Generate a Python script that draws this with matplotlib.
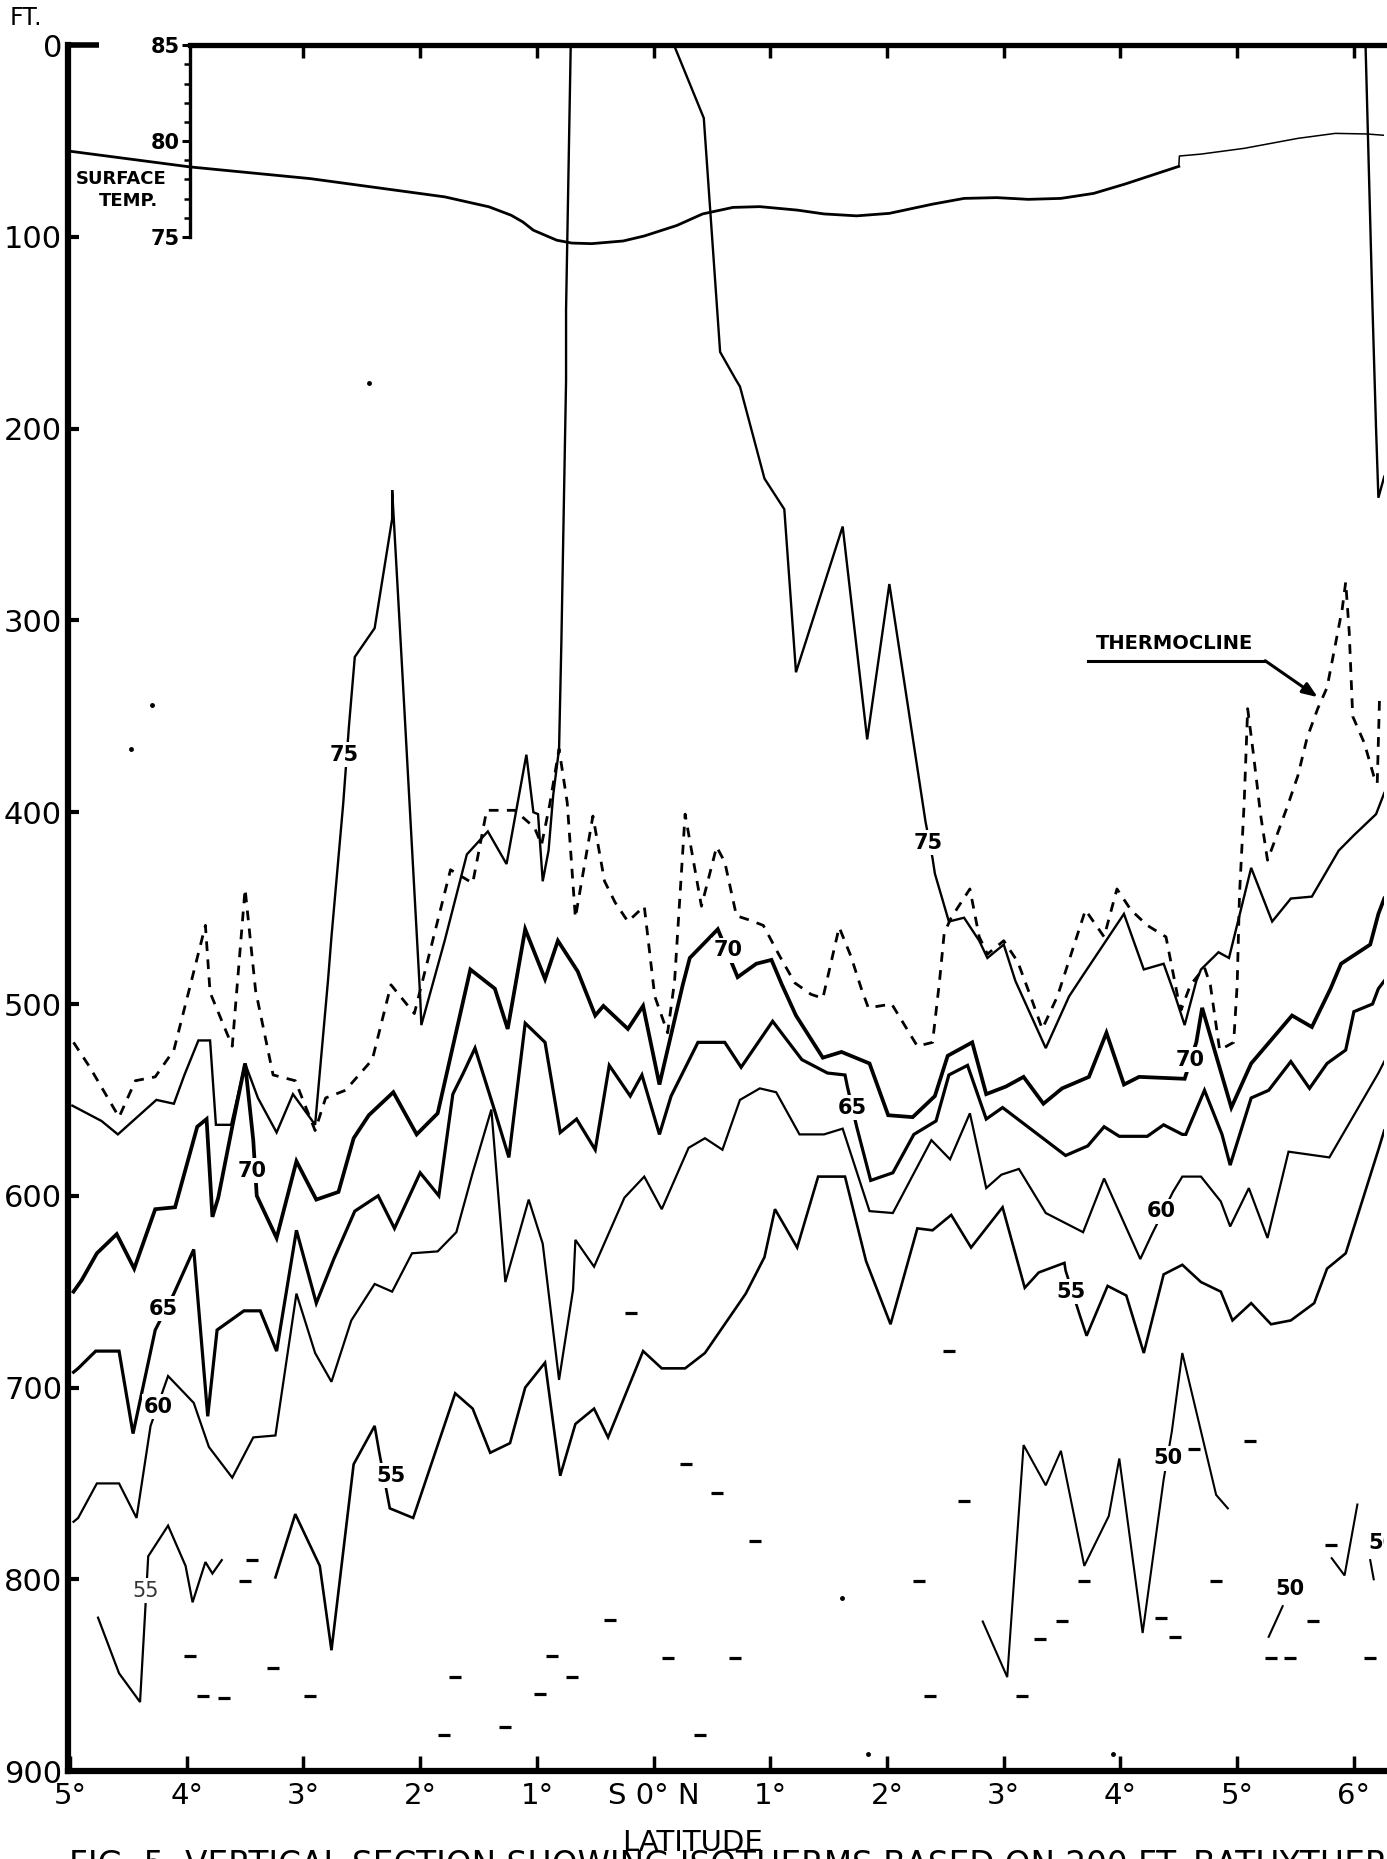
import matplotlib
matplotlib.use("Agg")
import matplotlib.pyplot as plt

plt.rcParams['font.family'] = ['DejaVu Sans']

# ---------------- data (latitude: S negative, N positive; depth in ft) -------------
therm = [(-4.97,520),(-4.83,533),(-4.58,559),(-4.44,540),(-4.27,538),(-4.11,524),(-3.96,488),
         (-3.84,459),(-3.80,494),(-3.61,522),(-3.57,492),(-3.50,440),(-3.41,493),(-3.26,537),
         (-3.07,540),(-2.90,566),(-2.81,549),(-2.64,545),(-2.41,529),(-2.25,490),(-2.05,505),
         (-1.74,430),(-1.55,437),(-1.43,399),(-1.19,399),(-1.02,408),(-0.96,417),(-0.89,396),
         (-0.81,367),(-0.74,395),(-0.67,455),(-0.52,402),(-0.42,436),(-0.33,447),(-0.22,457),
         (-0.08,449),(0.01,496),(0.12,515),(0.18,488),(0.27,401),(0.41,449),(0.54,418),
         (0.61,426),(0.71,454),(0.81,456),(0.94,459),(1.08,475),(1.21,489),(1.35,495),
         (1.45,497),(1.59,460),(1.69,475),(1.78,492),(1.84,502),(2.04,500),(2.26,522),
         (2.39,520),(2.45,488),(2.49,463),(2.55,455),(2.71,440),(2.79,465),(2.86,474),
         (3.00,467),(3.12,478),(3.23,496),(3.33,513),(3.46,496),(3.70,451),(3.86,465),
         (3.97,440),(4.09,451),(4.23,459),(4.39,465),(4.49,496),(4.52,503),(4.60,490),
         (4.72,481),(4.77,490),(4.85,524),(4.97,520),(5.00,490),(5.02,443),(5.06,395),
         (5.09,346),(5.14,370),(5.20,401),(5.26,425),(5.34,412),(5.43,397),(5.52,381),
         (5.60,361),(5.69,346),(5.77,335),(5.84,313),(5.90,294),(5.93,280),(5.96,306),
         (5.99,350),(6.09,364),(6.17,381),(6.20,385),(6.22,340)]

iso75_a = [(-4.98,553),(-4.73,561),(-4.59,568),(-4.26,550),(-4.11,552),(-4.02,537),(-3.90,519),
           (-3.80,519),(-3.75,563),(-3.62,563),(-3.50,531),(-3.39,549),(-3.23,567),(-3.09,547),
           (-2.90,563),(-2.79,488),(-2.76,465),(-2.66,396),(-2.61,355),(-2.56,319),(-2.39,304),
           (-2.24,247),(-2.24,232),(-2.16,319),(-2.00,496),(-1.99,511),(-1.79,467),(-1.60,422),
           (-1.42,410),(-1.26,427),(-1.09,370),(-1.03,400),(-0.99,401),(-0.95,436),(-0.90,420),
           (-0.86,391),(-0.81,367),(-0.79,311),(-0.75,175),(-0.75,138),(-0.71,0)]
iso75_b = [(0.175,0),(0.43,38),(0.57,160),(0.71,175),(0.74,178),(0.95,226),(1.12,242),
           (1.22,327),(1.62,251),(1.83,362),(2.02,281),(2.33,405),(2.39,424),(2.41,432),
           (2.53,457),(2.66,455),(2.79,467),(2.86,476),(3.00,469),(3.10,488),(3.36,523),
           (3.56,496),(3.69,484),(4.03,453),(4.20,482),(4.37,479),(4.47,496),(4.55,511),
           (4.65,488),(4.69,482),(4.84,473),(4.93,476),(5.12,429),(5.30,457),(5.46,445),
           (5.64,444),(5.87,420),(6.00,412),(6.19,401),(6.26,390)]
iso75_c = [(6.10,0),(6.16,138),(6.19,200),(6.21,236),(6.26,225)]

iso70 = [(-4.97,650),(-4.90,644),(-4.77,630),(-4.60,620),(-4.45,638),(-4.27,607),(-4.10,606),
         (-3.91,564),(-3.83,560),(-3.78,611),(-3.73,601),(-3.61,564),(-3.50,531),(-3.43,571),
         (-3.40,600),(-3.23,622),(-3.06,582),(-2.89,602),(-2.70,598),(-2.57,570),(-2.44,558),
         (-2.23,546),(-2.03,568),(-1.85,557),(-1.57,482),(-1.36,492),(-1.25,513),(-1.10,461),
         (-0.93,487),(-0.82,467),(-0.65,483),(-0.50,506),(-0.43,501),(-0.22,513),(-0.09,501),
         (0.05,542),(0.25,490),(0.31,476),(0.55,461),(0.72,486),(0.88,479),(1.01,477),
         (1.10,490),(1.22,506),(1.45,528),(1.61,525),(1.85,531),(2.01,558),(2.22,559),
         (2.41,548),(2.52,527),(2.73,520),(2.85,547),(3.02,543),(3.17,538),(3.34,552),
         (3.50,544),(3.73,538),(3.88,515),(4.03,542),(4.16,538),(4.55,539),(4.65,520),
         (4.70,502),(4.95,554),(5.12,531),(5.47,506),(5.64,512),(5.80,492),(5.89,479),
         (6.14,469),(6.21,453),(6.26,445)]

iso65 = [(-4.97,692),(-4.93,690),(-4.78,681),(-4.58,681),(-4.46,724),(-4.27,670),(-4.11,651),
         (-3.94,628),(-3.82,715),(-3.74,670),(-3.51,660),(-3.37,660),(-3.23,681),(-3.06,618),
         (-2.89,656),(-2.74,633),(-2.56,608),(-2.36,600),(-2.22,617),(-2.00,588),(-1.84,600),
         (-1.72,547),(-1.63,536),(-1.53,523),(-1.37,554),(-1.24,580),(-1.10,510),(-0.93,520),
         (-0.80,567),(-0.66,560),(-0.50,576),(-0.38,532),(-0.20,548),(-0.10,537),(0.05,568),
         (0.15,548),(0.38,520),(0.61,520),(0.75,533),(1.02,509),(1.27,529),(1.49,536),
         (1.64,537),(1.66,543),(1.74,564),(1.86,592),(2.05,588),(2.23,568),(2.42,561),
         (2.53,537),(2.69,532),(2.85,560),(2.99,554),(3.53,579),(3.72,574),(3.86,564),
         (3.99,569),(4.23,569),(4.37,563),(4.53,568),(4.56,568),(4.72,545),(4.87,568),
         (4.94,584),(5.12,549),(5.27,545),(5.46,530),(5.62,544),(5.77,531),(5.93,524),
         (6.00,504),(6.16,500),(6.21,492),(6.26,488)]

iso60 = [(-4.97,770),(-4.93,768),(-4.77,750),(-4.58,750),(-4.43,768),(-4.31,720),(-4.16,694),
         (-3.94,708),(-3.81,731),(-3.61,747),(-3.43,726),(-3.24,725),(-3.06,651),(-2.90,682),
         (-2.76,697),(-2.59,665),(-2.39,646),(-2.24,650),(-2.07,630),(-1.85,629),(-1.69,619),
         (-1.55,588),(-1.39,555),(-1.27,645),(-1.07,602),(-0.95,625),(-0.81,696),(-0.69,649),
         (-0.67,623),(-0.51,637),(-0.25,601),(-0.08,590),(0.07,607),(0.30,575),(0.44,570),
         (0.59,576),(0.74,550),(0.91,544),(1.05,546),(1.25,568),(1.46,568),(1.62,565),
         (1.85,608),(2.05,609),(2.38,571),(2.54,581),(2.71,557),(2.85,596),(2.98,589),
         (3.13,586),(3.36,609),(3.68,619),(3.86,591),(4.17,633),(4.27,620),(4.45,598),
         (4.53,590),(4.69,590),(4.86,603),(4.94,616),(5.10,596),(5.26,622),(5.44,577),
         (5.79,580),(6.21,536),(6.26,530)]

iso55_a = [(-4.76,820),(-4.58,849),(-4.40,864),(-4.36,821),(-4.33,788),(-4.16,772),(-4.01,793),
           (-3.95,812),(-3.84,791),(-3.78,797),(-3.70,790)]
iso55_b = [(-3.24,799),(-3.07,766),(-2.86,793),(-2.76,837),(-2.57,740),(-2.39,720),(-2.35,734),
           (-2.26,763),(-2.06,768),(-1.70,703),(-1.55,711),(-1.40,734),(-1.23,729),(-1.10,700),
           (-0.93,687),(-0.80,746),(-0.67,719),(-0.51,711),(-0.39,726),(-0.09,681),(0.07,690),
           (0.27,690),(0.44,682),(0.79,651),(0.95,632),(1.04,607),(1.23,627),(1.41,590),
           (1.64,590),(1.82,634),(2.03,667),(2.26,617),(2.39,618),(2.55,610),(2.72,627),
           (2.99,606),(3.18,648),(3.30,640),(3.52,635),(3.53,639),(3.65,662),(3.71,673),
           (3.89,647),(4.05,652),(4.20,682),(4.37,641),(4.53,636),(4.69,645),(4.86,650),
           (4.96,665),(5.12,656),(5.29,667),(5.46,665),(5.66,656),(5.77,638),(5.93,630),
           (6.21,576),(6.26,566)]

iso50_a = [(2.82,822),(3.03,851),(3.17,730),(3.36,751),(3.49,733),(3.69,793),(3.90,767),
           (3.99,737),(4.19,828),(4.37,748),(4.44,723),(4.53,682),(4.82,756),(4.92,763)]
iso50_b = [(5.27,830),(5.39,814)]
iso50_c = [(5.81,789),(5.92,798),(6.03,761)]
iso50_d = [(6.14,790),(6.17,800)]

# isotherm labels: (text, lat, depth)
labels = [("75",-2.65,370),("75",2.35,416),("70",-3.44,587),("70",0.64,472),("70",4.60,529),
          ("65",-4.20,659),("65",1.70,554),("60",-4.24,710),("60",4.35,608),
          ("55",-2.25,746),("55",3.58,650),("50",4.41,737),("50",5.45,805)]
label55_thin = ("55",-4.35,806)
label50_edge = ("50",6.12,781)

# short bathythermograph bottom marks
marks = [(-3.44,790),(-3.50,801),(-3.97,840),(-3.26,846),(-3.86,861),(-3.68,862),(-2.94,861),
         (-1.70,851),(-0.19,661),(0.28,740),(0.54,755),(0.87,780),(2.53,681),(2.66,759),
         (2.27,801),(-0.37,821),(-0.87,840),(-0.70,851),(-0.97,860),(0.12,841),(0.70,841),
         (2.37,861),(3.16,861),(3.31,831),(3.50,822),(3.69,801),(4.35,820),(4.47,830),
         (4.63,732),(4.82,801),(5.11,728),(5.65,822),(5.80,782),(5.29,841),(5.45,841),
         (6.14,841),(-1.80,881),(-1.27,877),(0.40,881)]
dots = [(1.61,810),(3.94,891),(1.84,891),(-4.30,344),(-4.48,367),(-2.44,176)]

# surface temperature (deg F)
surf_lat_1 = [-5.0,-3.97,-2.94,-1.79,-1.41,-1.22,-1.12,-1.03,-0.83,-0.70,-0.53,-0.26,-0.08,
              0.20,0.42,0.68,0.91,1.23,1.46,1.74,2.02,2.39,2.66,2.94,3.21,3.49,3.77,4.04,
              4.32,4.50]
surf_t_1 = [79.47,78.65,78.04,77.09,76.57,76.13,75.78,75.35,74.83,74.68,74.65,74.79,75.05,
            75.6,76.2,76.54,76.58,76.4,76.2,76.1,76.23,76.71,77.01,77.05,76.96,77.01,77.27,
            77.76,78.32,78.68]
surf_lat_2 = [4.50,4.505,4.69,5.06,5.52,5.84,6.11,6.26]
surf_t_2 = [78.68,79.22,79.32,79.62,80.14,80.4,80.37,80.3]

x_ticks = list(range(-5, 7))
x_ticklabels = ["5°","4°","3°","2°","1°","S 0° N","1°","2°","3°","4°","5°","6°"]
y_ticks = list(range(0, 1000, 100))
temp_ticks = [75, 80, 85]
TEMP_AXIS_LAT = -3.975
XMIN, XMAX = -5.02, 6.26

# ---------------- figure ----------------
fig = plt.figure(figsize=(13.87, 18.59), dpi=100)
ax = fig.add_axes([0.0488, 0.0473, 0.9492, 0.9284])
ax.set_xlim(XMIN, XMAX)
ax.set_ylim(900, 0)

def xy(pts):
    return [p[0] for p in pts], [p[1] for p in pts]

def line(pts, lw, **kw):
    x, y = xy(pts)
    ax.plot(x, y, color='k', lw=lw, solid_joinstyle='miter', zorder=2, **kw)

x, y = xy(therm)
ax.plot(x, y, color='k', lw=2.0, linestyle=(0, (3.5, 3.0)), zorder=2)
for seg in (iso75_a, iso75_b, iso75_c):
    line(seg, 1.7)
line(iso70, 2.7)
line(iso65, 2.3)
line(iso60, 1.6)
line(iso55_a, 1.6)
line(iso55_b, 1.9)
for seg in (iso50_a, iso50_b, iso50_c, iso50_d):
    line(seg, 1.5)

mx, my = xy(marks)
ax.plot(mx, my, ls='none', marker='_', ms=9, mew=2.3, color='k')
dx, dy = xy(dots)
ax.plot(dx, dy, ls='none', marker='o', ms=2.5, color='k')

def t2d(t):
    return (85.0 - t) * 10.0

def d2t(d):
    return 85.0 - d / 10.0

ax.plot(surf_lat_1, [t2d(t) for t in surf_t_1], color='k', lw=2.0, zorder=2)
ax.plot(surf_lat_2, [t2d(t) for t in surf_t_2], color='k', lw=1.1, zorder=2)

bbox = dict(boxstyle='square,pad=0.12', fc='white', ec='none')
for s, la, de in labels:
    ax.text(la, de, s, ha='center', va='center', fontsize=15, fontweight='bold',
            bbox=bbox, zorder=5)
ax.text(label55_thin[1], label55_thin[2], label55_thin[0], ha='center', va='center',
        fontsize=15, color='#333333', bbox=bbox, zorder=5)
ax.text(label50_edge[1], label50_edge[2], label50_edge[0], ha='left', va='center',
        fontsize=15, fontweight='bold', clip_on=True, zorder=5)

# thermocline annotation
ax.text(4.46, 312, "THERMOCLINE", ha='center', va='center', fontsize=14,
        fontweight='bold')
ax.plot([3.72, 5.24], [321, 321], color='k', lw=2.2)
ax.annotate('', xy=(5.69, 340), xytext=(5.24, 321),
            arrowprops=dict(arrowstyle='-|>,head_length=0.9,head_width=0.35', lw=2.2,
                            color='k', shrinkA=0, shrinkB=0))

ax.text(-4.56, 70, "SURFACE", ha='center', va='center', fontsize=13, fontweight='bold')
ax.text(-4.50, 81, "TEMP.", ha='center', va='center', fontsize=13, fontweight='bold')

# ---------------- axes styling ----------------
ax.spines['right'].set_visible(False)
ax.spines['left'].set_linewidth(4.5)
ax.spines['bottom'].set_linewidth(4.5)
ax.spines['top'].set_linewidth(3.8)
ax.spines['top'].set_bounds(TEMP_AXIS_LAT, XMAX)
ax.plot([XMIN, -4.75], [0, 0], color='k', lw=4.0, clip_on=False, solid_capstyle='butt')

ax.set_xticks(x_ticks)
ax.set_xticklabels(x_ticklabels, fontsize=21)
ax.set_yticks(y_ticks)
ax.set_yticklabels([str(v) for v in y_ticks], fontsize=22)
ax.tick_params(axis='x', direction='in', length=11, width=2.5, pad=8)
ax.tick_params(axis='y', direction='in', length=8, width=3, pad=4)

top = ax.secondary_xaxis('top')
top.set_xticks(list(range(-3, 7)))
top.tick_params(direction='in', length=9, width=2.5, labeltop=False)
top.spines['top'].set_visible(False)

loc = (TEMP_AXIS_LAT - XMIN) / (XMAX - XMIN)
sec = ax.secondary_yaxis(loc, functions=(d2t, t2d))
sec.set_yticks(temp_ticks)
sec.set_yticks(list(range(76, 85)), minor=True)
sec.set_yticklabels([str(t) for t in temp_ticks], fontsize=15, fontweight='bold')
sec.spines['left'].set_bounds(75, 85)
sec.spines['left'].set_linewidth(2.4)
sec.tick_params(axis='y', which='major', direction='out', length=6, width=2.2, pad=1)
sec.tick_params(axis='y', which='minor', direction='out', length=4, width=1.8)

fig.text(0.019, 0.9905, "FT.", ha='center', va='center', fontsize=17)
fig.text(0.4996, 0.0045, "LATITUDE", ha='center', va='baseline', fontsize=21)
fig.text(0.05, -0.0085,
         "FIG. 5  VERTICAL SECTION SHOWING ISOTHERMS BASED ON 200 FT. BATHYTHERMOGRAMS",
         ha='left', va='baseline', fontsize=23.5)

fig.savefig("out.png", dpi=100)
